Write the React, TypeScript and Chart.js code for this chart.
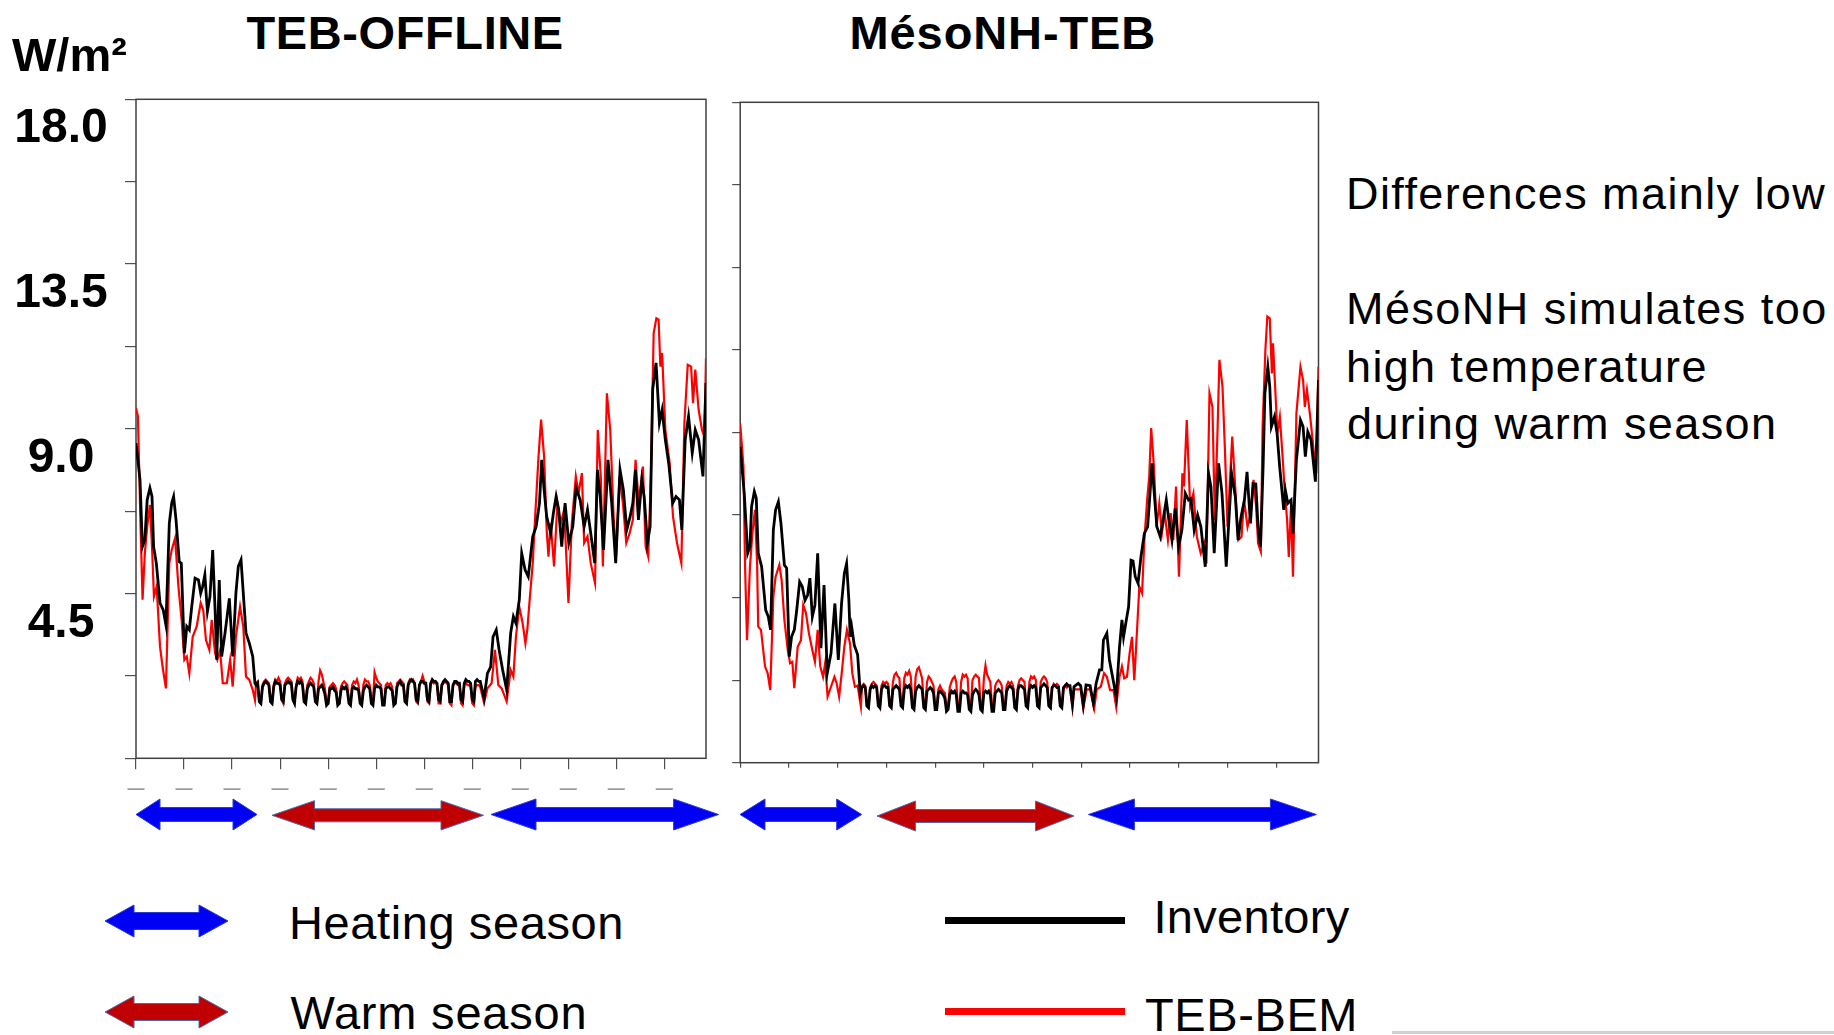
import React, { useEffect, useRef } from "react";
import { Chart, registerables } from "chart.js";

Chart.register(...registerables);

type Pt = [number, number];

// ---------- axis definitions ----------
const X_MAX = 356; // days shown
const X_TICK_STEP = 30; // monthly tick marks
const Y_MAX = 18;
const Y_TICK_STEP = 2.25;
const Y_LABEL_VALUES = [4.5, 9, 13.5, 18];
const X_TICK_LABEL = "—";
const SUMMER_START_DAY = 75;

// ---------- TEB-OFFLINE : Inventory (black) ----------
const OFFLINE_INVENTORY_WINTER: Pt[] = [
  [0, 8.61], [2.5, 7.61], [4, 5.78], [5.5, 5.97], [7, 7.06], [8.7, 7.38], [10, 7.15], [11, 5.78],
  [12.7, 5.33], [15, 4.24], [17, 4.05], [18.7, 3.64], [20.8, 6.42], [22.3, 6.97], [23.5, 7.15],
  [25, 6.51], [27, 5.37], [28.3, 5.33], [30.2, 2.87], [31.7, 3.6], [33.3, 3.51], [34.8, 4.14],
  [36.9, 4.92], [39, 4.87], [40.4, 4.51], [41.6, 4.69], [43, 5.01], [44.6, 4.01], [46.2, 4.42],
  [47.9, 5.69], [49.4, 4.05], [50.4, 2.69], [52, 4.87], [53.5, 2.78], [55.6, 3.42], [58.3, 4.37],
  [60.4, 2.78], [62.4, 4.51], [63.9, 5.24], [65.6, 5.42], [67, 4.51], [68.7, 3.42], [70.8, 3.14],
  [72.9, 2.78], [74.3, 2.05],
];
const OFFLINE_INVENTORY_SUMMER: number[] = [
  2.0, 2.05, 1.55, 1.5,
  1.95, 2.05, 2.1, 2.05, 2.0, 1.55, 1.5,
  1.95, 2.1, 2.05, 2.05, 2.0, 1.6, 1.55,
  2.0, 2.05, 2.1, 2.05, 2.05, 1.6, 1.5,
  1.95, 2.1, 2.05, 2.1, 2.0, 1.55, 1.5,
  1.9, 2.0, 2.05, 2.0, 1.95, 1.55, 1.5,
  1.9, 1.95, 2.0, 1.9, 1.75, 1.45, 1.5,
  1.9, 1.9, 1.95, 1.85, 1.8, 1.45, 1.5,
  1.85, 1.95, 1.9, 1.95, 1.85, 1.5, 1.45,
  1.9, 1.95, 1.9, 1.9, 1.85, 1.5, 1.45,
  1.85, 1.95, 2.0, 1.95, 1.9, 1.5, 1.45,
  1.9, 2.0, 1.95, 1.95, 1.9, 1.45, 1.45,
  1.9, 1.95, 1.95, 1.9, 1.85, 1.45, 1.5,
  1.95, 2.05, 2.1, 2.0, 2.0, 1.55, 1.5,
  2.0, 2.1, 2.15, 2.1, 2.05, 1.6, 1.55,
  2.0, 2.1, 2.1, 2.05, 2.05, 1.6, 1.55,
  2.05, 2.15, 2.1, 2.1, 2.05, 1.6, 1.55,
  2.0, 2.1, 2.15, 2.1, 2.05, 1.55, 1.55,
  2.0, 2.1, 2.1, 2.05, 2.05, 1.6, 1.55,
  2.05, 2.15, 2.1, 2.1, 2.05, 1.6, 1.55,
  2.1, 2.15, 2.1, 2.1,
];
const OFFLINE_INVENTORY_AUTUMN: Pt[] = [
  [217.4, 1.64], [219.5, 2.32], [221.5, 2.5], [223, 3.32], [225, 3.51], [226.8, 2.96], [229, 2.41],
  [231.5, 1.87], [234, 3.42], [235.7, 3.87], [237.3, 3.69], [239.4, 4.33], [240.9, 5.6], [243, 5.15],
  [245, 4.96], [247.8, 6.06], [249.9, 6.33], [252, 6.97], [253.4, 8.15], [254.9, 7.33], [256.5, 6.6],
  [259, 6.15], [260.7, 6.7], [262.4, 7.15], [264, 6.79], [265.9, 5.78], [268, 6.97], [270.3, 5.88],
  [272.8, 6.33], [274.9, 7.38], [277.4, 7.06], [279.9, 6.33], [282, 6.79], [284, 6.15], [286.5, 5.33],
  [288.2, 7.88], [289.9, 7.15], [292, 5.69], [294.8, 8.15], [297.1, 6.97], [299.6, 5.33], [302.3, 7.88],
  [304.4, 7.33], [306.5, 6.24], [308.6, 6.6], [310.3, 6.97], [311.9, 7.88], [313.8, 6.51], [315.9, 7.61],
  [317.4, 7.15], [319.4, 5.88], [321.1, 6.33], [322.7, 10.07], [324.8, 10.8], [326.9, 9.16],
  [328.6, 9.52], [330.6, 8.7], [332.7, 8.06], [335.2, 6.97], [337.3, 7.15], [339.4, 7.06], [340.9, 6.24],
  [343, 8.7], [345.1, 9.34], [347.4, 8.34], [349.3, 8.97], [351.4, 8.7], [354.1, 7.7], [356, 10.25],
];

// ---------- TEB-OFFLINE : TEB-BEM (red) ----------
const OFFLINE_TEBBEM_WINTER: Pt[] = [
  [0, 9.57], [1.2, 9.34], [2.9, 6.24], [4.1, 4.33], [5.5, 5.6], [7, 6.33], [8.7, 6.92], [10, 5.78],
  [11.2, 4.42], [12.9, 4.69], [15, 3.05], [16.6, 2.5], [18.7, 1.91], [20.8, 5.33], [22.3, 5.69],
  [24.4, 6.01], [26.5, 4.69], [28.5, 3.78], [30.2, 2.69], [31.7, 2.78], [33.3, 2.32], [35.4, 3.32],
  [37.9, 3.6], [40.4, 4.24], [42, 4.05], [43.7, 3.23], [45.8, 2.96], [47.3, 3.78], [49.4, 2.87],
  [50.8, 2.69], [52.5, 2.96], [54.2, 2.05], [56.7, 2.05], [58.8, 2.69], [60.4, 1.96], [62.4, 3.32],
  [65, 4.14], [67, 3.6], [68.7, 2.23], [70.8, 2.14], [72.9, 1.87], [74.3, 1.59],
];
const OFFLINE_TEBBEM_SUMMER: number[] = [
  2.05, 2.1, 1.55, 1.5,
  2.0, 2.1, 2.15, 2.1, 2.05, 1.55, 1.5,
  2.0, 2.15, 2.1, 2.2, 2.1, 1.6, 1.5,
  2.05, 2.15, 2.2, 2.15, 2.1, 1.6, 1.5,
  2.0, 2.2, 2.15, 2.2, 2.1, 1.55, 1.5,
  2.0, 2.1, 2.2, 2.15, 2.05, 1.55, 1.5,
  2.1, 2.4, 2.3, 2.1, 1.9, 1.5, 1.5,
  1.95, 2.0, 2.05, 2.0, 1.9, 1.5, 1.5,
  1.95, 2.05, 2.1, 2.05, 2.0, 1.55, 1.5,
  2.0, 2.1, 2.05, 2.15, 2.0, 1.55, 1.5,
  2.0, 2.15, 2.1, 2.1, 2.0, 1.5, 1.5,
  2.35, 2.2, 2.1, 2.05, 2.0, 1.5, 1.5,
  2.0, 2.05, 2.0, 2.05, 1.95, 1.5, 1.5,
  2.05, 2.1, 2.15, 2.1, 2.05, 1.55, 1.5,
  2.05, 2.15, 2.1, 2.15, 2.05, 1.55, 1.5,
  2.0, 2.1, 2.25, 2.1, 2.05, 1.55, 1.5,
  2.0, 2.1, 2.05, 2.1, 2.0, 1.5, 1.5,
  2.0, 2.05, 2.1, 2.05, 2.0, 1.5, 1.45,
  2.0, 2.05, 2.05, 2.0, 2.0, 1.5, 1.45,
  2.0, 2.05, 2.0, 2.0, 1.95, 1.5, 1.45,
  1.95, 2.0, 2.0, 1.95,
];
const OFFLINE_TEBBEM_AUTUMN: Pt[] = [
  [217.4, 1.51], [219.5, 1.91], [222.1, 2.05], [224.2, 2.96], [226.3, 2.0], [228.4, 1.91], [231.5, 1.55],
  [234, 2.41], [235.7, 2.23], [237.3, 3.32], [239.4, 4.14], [241.5, 3.69], [243.2, 3.14], [244.4, 3.51],
  [245.7, 4.24], [247.8, 5.33], [249.3, 6.6], [251.4, 8.24], [253, 9.25], [254.9, 8.24], [256.5, 6.24],
  [257.6, 5.51], [259, 6.42], [261.1, 5.24], [263.2, 6.97], [265.3, 6.42], [267.4, 6.79], [270.1, 4.24],
  [272.2, 6.42], [274.7, 7.7], [276.4, 7.24], [278.5, 7.79], [279.9, 5.88], [282, 6.06], [284, 5.33],
  [286.7, 4.78], [288.4, 8.97], [290.3, 7.7], [291.6, 5.24], [294.1, 9.97], [296.2, 8.97], [298.3, 6.6],
  [299.9, 5.51], [302, 7.7], [304.1, 6.97], [306.2, 5.88], [308.3, 6.15], [310.3, 6.51], [312, 8.15],
  [314, 6.97], [316.6, 7.97], [318.3, 5.78], [319.9, 5.51], [321.6, 7.7], [323.3, 11.61], [325, 12.02],
  [326.4, 11.98], [327.5, 10.7], [328.6, 11.07], [330.6, 8.97], [333.3, 8.06], [335.4, 6.6], [337.9, 5.88],
  [340.6, 5.33], [342.5, 9.16], [344.6, 10.75], [346.7, 10.7], [347.9, 9.7], [349.3, 10.62], [351.4, 9.52],
  [353.5, 8.97], [355, 8.79], [356, 10.93],
];

// ---------- MésoNH-TEB : Inventory (black) ----------
const MESONH_INVENTORY_WINTER: Pt[] = [
  [0, 8.61], [2.5, 7.34], [4.6, 5.71], [6, 5.89], [7, 6.98], [8.7, 7.39], [9.9, 7.21], [11.1, 5.71],
  [13.2, 5.34], [15.7, 4.16], [17.3, 3.98], [18.7, 3.62], [20.4, 6.34], [21.8, 6.89], [23.5, 7.11],
  [25.1, 6.52], [27.2, 5.39], [28.6, 5.3], [30.2, 2.89], [31.6, 3.43], [33.3, 3.62], [34.7, 4.12],
  [36.6, 4.93], [38.2, 4.8], [39.9, 4.43], [41.5, 4.57], [42.9, 5.03], [44.4, 3.98], [46, 4.3],
  [47.7, 5.71], [49.7, 3.12], [51.6, 4.84], [53.6, 2.44], [55.9, 2.98], [58.3, 4.34], [60.4, 2.8],
  [62.4, 4.34], [64.1, 5.16], [65.5, 5.43], [66.9, 4.43], [67.7, 3.43], [68.6, 3.71], [70.2, 3.21],
  [72.3, 2.94], [73.9, 1.89],
];
const MESONH_INVENTORY_SUMMER: number[] = [
  2.05, 2.1, 2.05,
  1.55, 1.5, 2.0, 2.1, 2.05, 2.1, 2.05,
  1.55, 1.5, 2.0, 2.1, 2.1, 2.05, 2.05,
  1.55, 1.5, 2.0, 2.05, 2.1, 2.05, 2.0,
  1.55, 1.5, 2.0, 2.1, 2.05, 2.1, 2.0,
  1.5, 1.45, 1.95, 2.05, 2.1, 2.05, 2.0,
  1.5, 1.45, 1.95, 2.0, 2.05, 2.0, 1.9,
  1.45, 1.45, 1.9, 1.95, 1.9, 1.85, 1.75,
  1.4, 1.45, 1.85, 1.95, 1.9, 1.95, 1.85,
  1.4, 1.4, 1.9, 1.95, 1.9, 1.9, 1.85,
  1.45, 1.4, 1.85, 1.95, 2.0, 1.95, 1.85,
  1.45, 1.4, 1.9, 1.95, 1.9, 1.95, 1.85,
  1.4, 1.4, 1.9, 1.95, 2.0, 1.95, 1.9,
  1.45, 1.45, 1.95, 2.05, 2.1, 2.05, 2.0,
  1.5, 1.45, 2.0, 2.1, 2.1, 2.05, 2.0,
  1.55, 1.5, 2.0, 2.1, 2.05, 2.1, 2.05,
  1.55, 1.5, 2.05, 2.1, 2.15, 2.1, 2.05,
  1.55, 1.5, 2.05, 2.1, 2.1, 2.05, 2.05,
  1.55, 1.5, 2.05, 2.1, 2.15, 2.1, 2.1,
];
const MESONH_INVENTORY_AUTUMN: Pt[] = [
  [204.5, 1.6], [205.5, 2.07], [208.1, 2.16], [209.6, 2.1], [211.2, 1.57], [212.9, 2.12], [215.4, 2.1],
  [217.4, 1.62], [219.1, 2.16], [221.2, 2.53], [222.6, 2.53], [223.6, 3.34], [225.7, 3.53], [227.3, 2.8],
  [228.8, 2.44], [231.5, 1.8], [233.5, 3.16], [235, 3.89], [236, 3.43], [237.7, 3.89], [239.1, 4.25],
  [240.6, 5.52], [241.8, 5.5], [243.2, 5.07], [244.9, 4.89], [246.7, 5.61], [248.8, 6.25], [250.8, 6.43],
  [252, 7.16], [253.5, 8.16], [254.9, 7.34], [256.5, 6.43], [258.6, 6.16], [260.6, 6.7], [262.3, 7.16],
  [263.9, 6.61], [265.8, 6.07], [267.8, 6.93], [269.9, 5.89], [271.9, 6.34], [274, 7.34], [276, 7.16],
  [277.5, 7.2], [279.5, 6.34], [281.6, 6.75], [283.6, 6.43], [286.3, 5.34], [288.3, 7.89], [289.8, 7.52],
  [291.8, 5.71], [294.5, 8.16], [296.6, 7.34], [299.2, 5.34], [302.5, 7.89], [304.8, 7.25], [306.5, 6.07],
  [308.3, 6.7], [310.4, 7.16], [312, 7.93], [314.1, 6.52], [315.7, 7.61], [317.4, 7.6], [318.8, 6.43],
  [320.3, 5.89], [321.9, 8.07], [323, 10.07], [324.8, 10.79], [326, 10.25], [327, 9.16], [328.9, 9.43],
  [330.5, 8.98], [332.1, 8.07], [334.6, 6.89], [335.6, 7.43], [337.1, 7.07], [339.1, 7.16], [340.3, 6.25],
  [342.4, 8.25], [344.9, 9.34], [346.5, 9.16], [347.9, 8.34], [349.4, 9.02], [351.4, 8.8], [354.1, 7.66],
  [356, 10.43],
];

// ---------- MésoNH-TEB : TEB-BEM (red) ----------
const MESONH_TEBBEM_WINTER: Pt[] = [
  [0, 9.25], [2, 8.07], [3, 5.34], [4.2, 3.34], [6, 5.34], [7.5, 6.25], [9.1, 6.89], [10.4, 5.43],
  [11.1, 3.71], [12.8, 3.62], [15.3, 2.62], [16.9, 2.44], [18.5, 1.98], [20.4, 4.52], [21.8, 5.07],
  [24.1, 5.39], [25.5, 4.98], [27.2, 3.89], [29.3, 3.07], [30.7, 2.71], [32.1, 2.75], [33.3, 2.03],
  [35.4, 3.16], [37.4, 3.34], [38.8, 4.3], [40.5, 4.07], [42.3, 3.53], [44.4, 3.07], [46, 2.75],
  [47.7, 3.62], [49.3, 2.62], [51, 2.34], [52.3, 2.71], [53.8, 1.8], [55.9, 2.07], [58, 2.34],
  [59.4, 2.16], [60.9, 1.8], [62.5, 2.44], [64.1, 3.16], [65.7, 3.62], [67.6, 3.25], [69, 2.44],
  [70.6, 2.07], [72.3, 2.1], [74.3, 1.53],
];
const MESONH_TEBBEM_SUMMER: number[] = [
  2.1, 2.15, 2.1,
  1.55, 1.5, 2.05, 2.15, 2.2, 2.15, 2.1,
  1.6, 1.5, 2.1, 2.2, 2.15, 2.2, 2.15,
  1.6, 1.55, 2.2, 2.4, 2.45, 2.35, 2.3,
  1.6, 1.55, 2.3, 2.45, 2.4, 2.5, 2.35,
  1.6, 1.55, 2.35, 2.55, 2.6, 2.45, 2.3,
  1.6, 1.55, 2.2, 2.35, 2.3, 2.2, 2.1,
  1.55, 1.5, 2.0, 2.1, 2.0, 1.95, 1.9,
  1.5, 1.55, 2.05, 2.2, 2.3, 2.35, 2.2,
  1.55, 1.5, 2.2, 2.4, 2.35, 2.4, 2.3,
  1.55, 1.5, 2.25, 2.35, 2.4, 2.35, 2.3,
  1.55, 1.5, 2.3, 2.65, 2.4, 2.3, 2.2,
  1.55, 1.5, 2.1, 2.2, 2.25, 2.2, 2.1,
  1.55, 1.5, 2.1, 2.2, 2.15, 2.2, 2.1,
  1.55, 1.5, 2.1, 2.25, 2.3, 2.25, 2.2,
  1.6, 1.55, 2.2, 2.35, 2.3, 2.35, 2.25,
  1.6, 1.55, 2.2, 2.3, 2.35, 2.3, 2.2,
  1.55, 1.5, 2.05, 2.15, 2.1, 2.15, 2.1,
  1.55, 1.5, 2.0, 2.1, 2.05, 2.1, 2.05,
];
const MESONH_TEBBEM_AUTUMN: Pt[] = [
  [204.5, 1.5], [205.5, 2.0], [208.1, 2.0], [209.6, 2.0], [211.2, 1.48], [213.3, 2.0], [215.4, 2.0],
  [217.9, 1.48], [219.5, 2.0], [222, 2.07], [224, 2.44], [225.7, 2.34], [227.7, 1.98], [229.8, 1.98],
  [231.5, 1.51], [233.5, 2.34], [235, 2.62], [236.4, 2.3], [238.1, 2.34], [239.7, 2.98], [241.2, 3.43],
  [242.6, 2.25], [244.3, 3.62], [245.7, 4.8], [247.4, 4.62], [248.8, 6.07], [250.5, 7.16], [251.8, 7.8],
  [253, 9.12], [254.7, 8.07], [256.3, 6.43], [258, 7.07], [259.6, 6.25], [261.3, 6.8], [263.3, 6.07],
  [265, 6.8], [266.6, 6.07], [268.3, 7.53], [270.1, 5.07], [272.2, 7.89], [273.2, 7.53], [274.9, 9.34],
  [277, 6.98], [279, 7.34], [281.1, 6.16], [283.5, 5.71], [285.6, 5.98], [287, 5.43], [288.9, 10.07],
  [290.7, 9.7], [292.2, 6.61], [293.8, 8.98], [295, 10.98], [296.9, 10.25], [298.4, 8.52], [300, 6.43],
  [302.9, 8.89], [304.7, 7.53], [306.6, 6.07], [308.6, 6.16], [310.2, 7.16], [312.3, 6.43], [314.3, 6.8],
  [316, 7.71], [317.6, 6.98], [318.8, 5.98], [320.5, 5.75], [321.6, 9.16], [323.3, 11.25], [324.5, 12.16],
  [326, 12.11], [327.3, 10.61], [328, 11.43], [329, 10.52], [330.7, 8.98], [332.2, 9.43], [333.9, 8.34],
  [335.3, 7.34], [336.7, 6.61], [337.7, 5.61], [339.1, 6.98], [340.3, 5.07], [342.4, 9.52], [344.9, 10.79],
  [346.5, 10.43], [347.6, 9.7], [348.9, 10.16], [350.9, 9.43], [353, 8.52], [354.6, 7.89], [356, 10.79],
];

// ---------- helpers ----------
const FONT = '"Liberation Sans", Arial, Helvetica, sans-serif';

function joinSeries(winter: Pt[], summer: number[], autumn: Pt[]) {
  return [
    ...winter.map(([x, y]) => ({ x, y })),
    ...summer.map((y, i) => ({ x: SUMMER_START_DAY + i, y })),
    ...autumn.map(([x, y]) => ({ x, y })),
  ];
}

const framePlugin = {
  id: "frame",
  beforeDatasetsDraw(chart: any) {
    const { ctx, chartArea } = chart;
    ctx.save();
    ctx.strokeStyle = "#404040";
    ctx.lineWidth = 1.5;
    ctx.strokeRect(chartArea.left, chartArea.top, chartArea.right - chartArea.left, chartArea.bottom - chartArea.top);
    ctx.restore();
  },
};

const yLabelPlugin = {
  id: "yLabels",
  afterDraw(chart: any) {
    const { ctx } = chart;
    const ys = chart.scales.y;
    ctx.save();
    ctx.font = `bold 48px ${FONT}`;
    ctx.fillStyle = "#000";
    ctx.textAlign = "center";
    ctx.textBaseline = "alphabetic";
    Y_LABEL_VALUES.forEach((v) => {
      ctx.fillText(v.toFixed(1), 61, ys.getPixelForValue(v) + 43);
    });
    ctx.restore();
  },
};

interface PanelOpts {
  inventory: { x: number; y: number }[];
  tebbem: { x: number; y: number }[];
  yAxisWidth: number;
  xAxisHeight: number;
  padding: { top: number; right: number; left: number; bottom: number };
  yTickLen: number;
  xTickLen: number;
  showXLabels: boolean;
  withYLabels: boolean;
}

function buildConfig(o: PanelOpts): any {
  return {
    type: "line",
    data: {
      datasets: [
        { label: "Inventory", data: o.inventory, borderColor: "#000000", borderWidth: 2.8, pointRadius: 0, tension: 0, fill: false },
        { label: "TEB-BEM", data: o.tebbem, borderColor: "#ff0000", borderWidth: 2.2, pointRadius: 0, tension: 0, fill: false },
      ],
    },
    options: {
      animation: false,
      responsive: false,
      maintainAspectRatio: false,
      events: [],
      layout: { padding: o.padding },
      plugins: { legend: { display: false }, tooltip: { enabled: false }, title: { display: false } },
      scales: {
        x: {
          type: "linear",
          min: 0,
          max: X_MAX,
          border: { display: false },
          grid: { drawOnChartArea: false, drawTicks: true, tickLength: o.xTickLen, color: "#505050", lineWidth: 1.2 },
          ticks: {
            stepSize: X_TICK_STEP,
            includeBounds: false,
            autoSkip: false,
            maxRotation: 0,
            display: o.showXLabels,
            padding: 10,
            color: "#999999",
            font: { family: FONT, size: 17, weight: "bold" },
            callback: () => X_TICK_LABEL,
          },
          afterFit: (s: any) => { s.height = o.xAxisHeight; },
        },
        y: {
          type: "linear",
          min: 0,
          max: Y_MAX,
          border: { display: false },
          grid: { drawOnChartArea: false, drawTicks: true, tickLength: o.yTickLen, color: "#505050", lineWidth: 1.2 },
          ticks: { stepSize: Y_TICK_STEP, display: false },
          afterFit: (s: any) => { s.width = o.yAxisWidth; },
        },
      },
    },
    plugins: o.withYLabels ? [framePlugin, yLabelPlugin] : [framePlugin],
  };
}

function Arrow({ x0, x1, yc, h, s, head, fill, stroke }: { x0: number; x1: number; yc: number; h: number; s: number; head: number; fill: string; stroke: string }) {
  const pts = [
    [x0, yc], [x0 + head, yc - h / 2], [x0 + head, yc - s / 2], [x1 - head, yc - s / 2], [x1 - head, yc - h / 2],
    [x1, yc], [x1 - head, yc + h / 2], [x1 - head, yc + s / 2], [x0 + head, yc + s / 2], [x0 + head, yc + h / 2],
  ].map((p) => p.join(",")).join(" ");
  return <polygon points={pts} fill={fill} stroke={stroke} strokeWidth={1} />;
}

function Txt({ text, left, baseline, size, bold, ls }: { text: string; left: number; baseline: number; size: number; bold?: boolean; ls?: number }) {
  return (
    <div
      style={{
        position: "absolute",
        left,
        top: baseline - 0.8465 * size,
        fontSize: size,
        lineHeight: `${size}px`,
        fontWeight: bold ? 700 : 400,
        whiteSpace: "nowrap",
        letterSpacing: ls ? `${ls}px` : undefined,
        color: "#000",
      }}
    >
      {text}
    </div>
  );
}

const BLUE = "#0000f5";
const BLUE_EDGE = "#2a3ccf";
const DARK_RED = "#c00000";
const RED_EDGE = "#4a6cb0";

export default function App() {
  const leftRef = useRef<HTMLCanvasElement>(null);
  const rightRef = useRef<HTMLCanvasElement>(null);

  useEffect(() => {
    const left = new Chart(
      leftRef.current as HTMLCanvasElement,
      buildConfig({
        inventory: joinSeries(OFFLINE_INVENTORY_WINTER, OFFLINE_INVENTORY_SUMMER, OFFLINE_INVENTORY_AUTUMN),
        tebbem: joinSeries(OFFLINE_TEBBEM_WINTER, OFFLINE_TEBBEM_SUMMER, OFFLINE_TEBBEM_AUTUMN),
        yAxisWidth: 136,
        xAxisHeight: 61.7,
        padding: { top: 19.3, right: 14, left: 0, bottom: 0 },
        yTickLen: 11,
        xTickLen: 11,
        showXLabels: true,
        withYLabels: true,
      })
    );
    const right = new Chart(
      rightRef.current as HTMLCanvasElement,
      buildConfig({
        inventory: joinSeries(MESONH_INVENTORY_WINTER, MESONH_INVENTORY_SUMMER, MESONH_INVENTORY_AUTUMN),
        tebbem: joinSeries(MESONH_TEBBEM_WINTER, MESONH_TEBBEM_SUMMER, MESONH_TEBBEM_AUTUMN),
        yAxisWidth: 20.2,
        xAxisHeight: 57.3,
        padding: { top: 22.3, right: 21.5, left: 0, bottom: 0 },
        yTickLen: 8,
        xTickLen: 5,
        showXLabels: false,
        withYLabels: false,
      })
    );
    return () => {
      left.destroy();
      right.destroy();
    };
  }, []);

  return (
    <div
      style={{
        position: "absolute",
        left: 0,
        top: 0,
        width: 1834,
        height: 1035,
        background: "#ffffff",
        overflow: "hidden",
        fontFamily: FONT,
      }}
    >
      <canvas ref={leftRef} width={720} height={740} style={{ position: "absolute", left: 0, top: 80, width: 720, height: 740 }} />
      <canvas ref={rightRef} width={620} height={740} style={{ position: "absolute", left: 720, top: 80, width: 620, height: 740 }} />

      <Txt text="W/m²" left={12} baseline={70.7} size={47} bold />
      <Txt text="TEB-OFFLINE" left={246.5} baseline={48.3} size={47} bold ls={0.6} />
      <Txt text="MésoNH-TEB" left={849.5} baseline={48.3} size={47} bold ls={0.9} />

      <Txt text="Differences mainly low" left={1346} baseline={209.3} size={45} ls={1.4} />
      <Txt text="MésoNH simulates too" left={1346} baseline={324.5} size={45} ls={1.45} />
      <Txt text="high temperature" left={1346} baseline={381.7} size={45} ls={1.35} />
      <Txt text="during warm season" left={1347} baseline={439.3} size={45} ls={1.4} />

      <Txt text="Heating season" left={289} baseline={939} size={47} ls={0.6} />
      <Txt text="Warm season" left={290.5} baseline={1029} size={47} ls={0.8} />
      <Txt text="Inventory" left={1153.5} baseline={933} size={47} ls={0.3} />
      <Txt text="TEB-BEM" left={1145} baseline={1030.4} size={47} ls={0.6} />

      <div style={{ position: "absolute", left: 945, top: 917, width: 180, height: 7, background: "#000" }} />
      <div style={{ position: "absolute", left: 945, top: 1007.5, width: 180, height: 7, background: "#ff0000" }} />
      <div style={{ position: "absolute", left: 1392, top: 1031, width: 442, height: 3, background: "#d0d0d0" }} />

      <svg width={1834} height={1035} style={{ position: "absolute", left: 0, top: 0, pointerEvents: "none" }}>
        <Arrow x0={136} x1={257} yc={814.5} h={31} s={14} head={24} fill={BLUE} stroke={BLUE_EDGE} />
        <Arrow x0={272} x1={483.5} yc={815.3} h={29.3} s={13} head={42.5} fill={DARK_RED} stroke={RED_EDGE} />
        <Arrow x0={491} x1={718.6} yc={814.5} h={31} s={14} head={45} fill={BLUE} stroke={BLUE_EDGE} />
        <Arrow x0={740} x1={861.7} yc={814.5} h={31} s={14} head={25} fill={BLUE} stroke={BLUE_EDGE} />
        <Arrow x0={877} x1={1074} yc={816} h={30} s={13} head={38.5} fill={DARK_RED} stroke={RED_EDGE} />
        <Arrow x0={1088.4} x1={1316.4} yc={814.5} h={31} s={14} head={46} fill={BLUE} stroke={BLUE_EDGE} />
        <Arrow x0={105} x1={228} yc={921} h={32} s={17} head={29} fill={BLUE} stroke={BLUE_EDGE} />
        <Arrow x0={105} x1={228} yc={1012} h={32} s={17} head={29} fill={DARK_RED} stroke={RED_EDGE} />
      </svg>
    </div>
  );
}
